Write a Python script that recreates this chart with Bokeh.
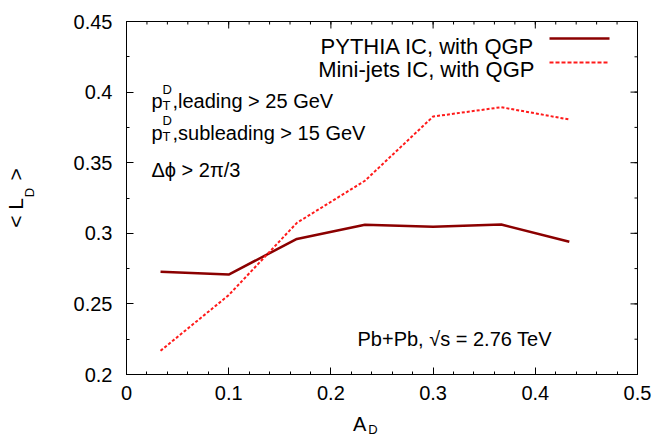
import math
from bokeh.plotting import figure
from bokeh.models import Range1d, FixedTicker, LinearAxis, Label, Arrow
from bokeh.embed import file_html
from bokeh.resources import INLINE

# ---- data ----
a_d = [0.0333, 0.1, 0.1667, 0.2333, 0.3, 0.3667, 0.4333]
pythia_qgp = [0.2728, 0.2708, 0.2960, 0.3060, 0.3046, 0.3062, 0.2940]
minijets_qgp = [0.2168, 0.2562, 0.3074, 0.3372, 0.3827, 0.3893, 0.3806]

x_ticks = [0.0, 0.1, 0.2, 0.3, 0.4, 0.5]
x_tick_labels = ["0", "0.1", "0.2", "0.3", "0.4", "0.5"]
y_ticks = [0.2, 0.25, 0.3, 0.35, 0.4, 0.45]
y_tick_labels = ["0.2", "0.25", "0.3", "0.35", "0.4", "0.45"]
x_minor = [round(0.02 * i, 4) for i in range(26)]
y_minor = [round(0.2 + 0.025 * i, 4) for i in range(11)]

series_names = ["PYTHIA IC, with QGP", "Mini-jets IC, with QGP"]

FONT = "Liberation Sans"
NB = "\u00a0"
L, R, T, B = 125, 637, 21, 374
W, H = 654, 439
X0, X1, Y0, Y1 = 0.0, 0.5, 0.2, 0.45

p = figure(width=W, height=H, x_range=Range1d(X0, X1), y_range=Range1d(Y0, Y1),
           output_backend="svg", toolbar_location=None,
           min_border_left=L, min_border_right=W - R, min_border_top=T, min_border_bottom=H - B)
p.background_fill_color = "white"
p.border_fill_color = "white"
p.outline_line_color = "black"
p.outline_line_width = 1
p.xgrid.visible = False
p.ygrid.visible = False

def style_axis(ax, ticks, minor, labels):
    ax.ticker = FixedTicker(ticks=ticks, minor_ticks=minor)
    ax.major_tick_in = 7
    ax.major_tick_out = 0
    ax.minor_tick_in = 3
    ax.minor_tick_out = 0
    ax.major_tick_line_color = "black"
    ax.minor_tick_line_color = "black"
    ax.axis_line_color = "black"
    ax.major_label_overrides = {t: s for t, s in zip(ticks, labels)}
    ax.major_label_text_font = FONT
    ax.major_label_text_font_size = "20px"
    ax.major_label_text_color = "black"
    ax.axis_label_text_font = FONT
    ax.axis_label_text_font_style = "normal"
    ax.axis_label_text_color = "black"

xa = p.xaxis[0]
ya = p.yaxis[0]
style_axis(xa, x_ticks, x_minor, x_tick_labels)
style_axis(ya, y_ticks, y_minor, y_tick_labels)
xa.major_label_standoff = 11
ya.major_label_standoff = 14

# x title "A_D": main letter on the axis, subscript on a second bare axis below
xa.axis_label = "A" + NB * 8
xa.axis_label_text_font_size = "20px"
xa.axis_label_standoff = 10

def bare_axis(label, size, standoff):
    ax = LinearAxis(ticker=FixedTicker(ticks=[]))
    ax.axis_line_color = None
    ax.major_tick_line_color = None
    ax.minor_tick_line_color = None
    ax.axis_label = label
    ax.axis_label_text_font = FONT
    ax.axis_label_text_font_style = "normal"
    ax.axis_label_text_font_size = size
    ax.axis_label_text_color = "black"
    ax.axis_label_standoff = standoff
    ax.major_label_standoff = 0
    return ax

p.add_layout(bare_axis("D" + NB * 5, "13px", -16), "below")

# y title "< L_D >": subscript on the inner axis, main text on an outer bare axis
ya.axis_label = NB * 3 + "D"
ya.axis_label_text_font_size = "13px"
ya.axis_label_standoff = 34
p.add_layout(bare_axis("< L" + NB * 2 + " >", "21px", -8), "left")

# mirror ticks on top and right (drawn from the tick arrays)
n_xm = len(x_minor)
n_ym = len(y_minor)
p.ray(x=x_ticks, y=[Y1] * len(x_ticks), length=7, angle=-math.pi / 2,
      length_units="screen", line_color="black", line_width=1)
p.ray(x=x_minor, y=[Y1] * n_xm, length=3, angle=-math.pi / 2,
      length_units="screen", line_color="black", line_width=1)
p.ray(x=[X1] * len(y_ticks), y=y_ticks, length=7, angle=math.pi,
      length_units="screen", line_color="black", line_width=1)
p.ray(x=[X1] * n_ym, y=y_minor, length=3, angle=math.pi,
      length_units="screen", line_color="black", line_width=1)

# ---- data lines ----
p.line(a_d, pythia_qgp, line_color="#8b0000", line_width=2.5)
p.line(a_d, minijets_qgp, line_color="#ff1a1a", line_width=2, line_dash="3 2")

# helpers: canvas pixel -> screen units relative to frame
def sx(px):
    return px - L

def sy(py):
    return B - py

def lab(text, px, py, size, align="left"):
    p.add_layout(Label(x=sx(px), y=sy(py), x_units="screen", y_units="screen", text=text,
                       text_font=FONT, text_font_size=size, text_color="black",
                       text_align=align, text_baseline="alphabetic"))

# legend (gnuplot style: text then sample)
lab(series_names[0], 533, 46, "22px", align="right")
lab(series_names[1], 533, 68.5, "22px", align="right")
p.add_layout(Arrow(end=None, x_start=sx(548), y_start=sy(38), x_end=sx(608), y_end=sy(38),
                   start_units="screen", end_units="screen", line_color="#8b0000", line_width=2.5))
p.add_layout(Arrow(end=None, x_start=sx(548), y_start=sy(62), x_end=sx(608), y_end=sy(62),
                   start_units="screen", end_units="screen", line_color="#ff1a1a", line_width=2,
                   line_dash="4 2"))

# cut annotations
for base, rest in [(100.7, ",leading > 25 GeV"), (132, ",subleading > 15 GeV")]:
    lab("p", 150, base, "20px")
    lab("T", 161, base + 4, "13px")
    lab("D", 161, base - 12, "13px")
    lab(rest, 171, base, "20px")
lab("Δϕ > 2π/3", 150, 169.5, "20px")

lab("Pb+Pb, √s = 2.76 TeV", 356, 338, "20px")

open("out.html", "w").write(file_html(p, INLINE))
